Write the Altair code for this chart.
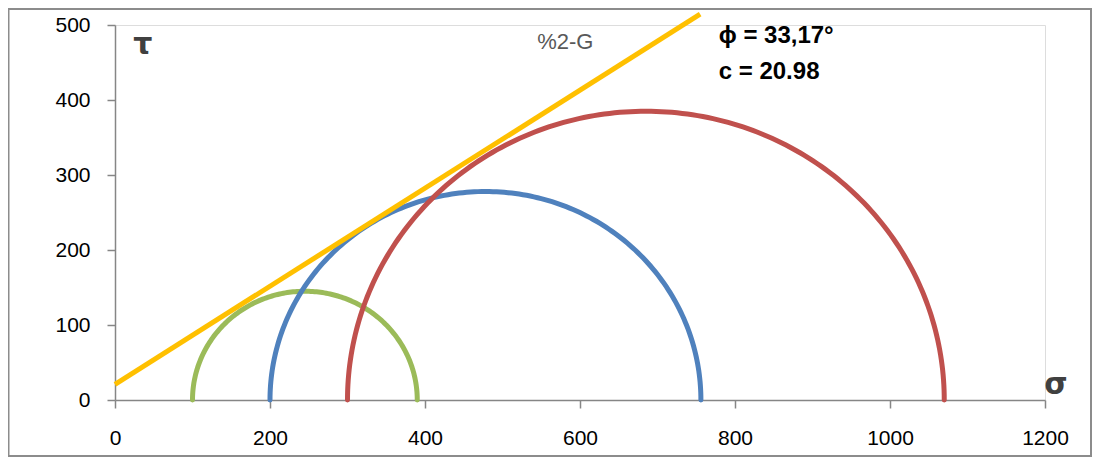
import altair as alt
import pandas as pd

# Mohr circles: minor and major principal stresses
circle_names = ["green", "blue", "red"]
sigma3 = [100, 200, 300]
sigma1 = [390, 756, 1070]
circle_colors = ["#9BBB59", "#4F81BD", "#C0504D"]

# Failure envelope
cohesion = 20.98
phi_deg = 33.17
env_sigma = [0, 755]

x_ticks = [0, 200, 400, 600, 800, 1000, 1200]
y_ticks = [0, 100, 200, 300, 400, 500]

FONT = "Liberation Sans"
xs = alt.Scale(domain=[0, 1200], nice=False, zero=True)
ys = alt.Scale(domain=[0, 500], nice=False, zero=True)

x_axis = alt.Axis(values=x_ticks, format="d", grid=False, domainColor="#868686", tickColor="#868686",
                  tickSize=8, labelFontSize=21, labelFont=FONT, labelColor="#000000", labelFlush=False,
                  labelPadding=19, title=None, domainWidth=1.5, tickWidth=1.5)
y_axis = alt.Axis(values=y_ticks, format="d", grid=False, domainColor="#868686", tickColor="#868686",
                  tickSize=8, labelFontSize=21, labelFont=FONT, labelColor="#000000", labelFlush=False,
                  labelPadding=17, title=None, domainWidth=1.5, tickWidth=1.5)

W, H = 930, 375

frame = alt.Chart(pd.DataFrame({"a": [0]})).mark_rect(
    fill=None, stroke="#8c8c8c", strokeWidth=2, clip=False
).encode(x=alt.value(-106.5), x2=alt.value(W + 46), y=alt.value(-16), y2=alt.value(H + 56))

layers = [frame]
for name, s3, s1, col in zip(circle_names, sigma3, sigma1, circle_colors):
    c = (s1 + s3) / 2
    r = (s1 - s3) / 2
    arc = alt.Chart(alt.sequence(0, 181, 1, as_="deg")).transform_calculate(
        sig=f"{c} - {r} * cos(datum.deg * PI / 180)",
        tau=f"{r} * sin(datum.deg * PI / 180)",
    ).mark_line(color=col, strokeWidth=5, strokeCap="round").encode(
        x=alt.X("sig:Q", scale=xs, axis=x_axis),
        y=alt.Y("tau:Q", scale=ys, axis=y_axis),
        order="deg:Q",
    )
    layers.append(arc)

env_df = pd.DataFrame({"sig": env_sigma})
envelope = alt.Chart(env_df).transform_calculate(
    tau=f"{cohesion} + datum.sig * tan({phi_deg} * PI / 180)"
).mark_line(color="#FFC000", strokeWidth=5, clip=False).encode(
    x=alt.X("sig:Q", scale=xs, axis=x_axis),
    y=alt.Y("tau:Q", scale=ys, axis=y_axis),
)
layers.append(envelope)

texts = pd.DataFrame({
    "x": [581, 779, 779],
    "y": [477, 485, 437],
    "t": ["%2-G", "ϕ = 33,17°", "c = 20.98"],
})
t1 = alt.Chart(texts.iloc[[0]]).mark_text(fontSize=22, font=FONT, color="#595959", align="center",
                                          baseline="middle").encode(
    x=alt.X("x:Q", scale=xs), y=alt.Y("y:Q", scale=ys), text="t:N")
t2 = alt.Chart(texts.iloc[[1, 2]]).mark_text(fontSize=24, font=FONT, fontWeight="bold", color="#000000",
                                             align="left", baseline="middle").encode(
    x=alt.X("x:Q", scale=xs), y=alt.Y("y:Q", scale=ys), text="t:N")

sym = pd.DataFrame({"x": [36, 1214], "y": [473, 20], "t": ["τ", "σ"]})
t3 = alt.Chart(sym).mark_text(fontSize=30, font="DejaVu Sans", fontWeight="bold", color="#404040",
                              align="center", baseline="middle", clip=False).encode(
    x=alt.X("x:Q", scale=xs), y=alt.Y("y:Q", scale=ys), text="t:N")

layers += [t1, t2, t3]

chart = alt.layer(*layers).properties(
    width=W, height=H,
    autosize=alt.AutoSizeParams(type="none"),
    padding={"left": 107, "top": 17, "right": 48, "bottom": 58},
).configure_view(stroke=None).configure(background="white")

chart.save("out.html", embed_options={"renderer": "svg", "actions": False})
